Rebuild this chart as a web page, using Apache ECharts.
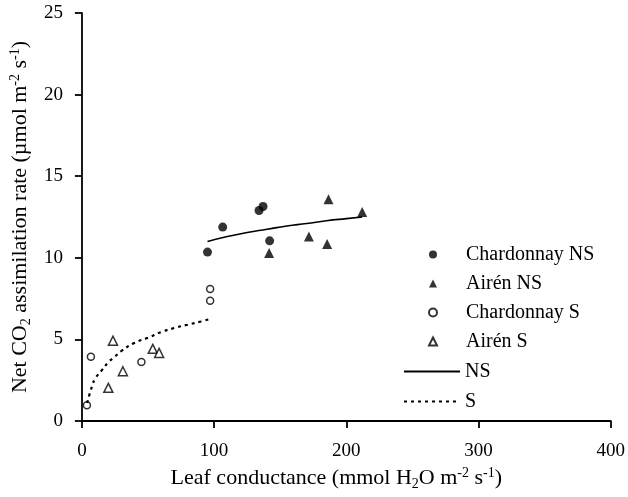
<!DOCTYPE html>
<html>
<head>
<meta charset="utf-8">
<script src="https://cdn.jsdelivr.net/npm/echarts@6/dist/echarts.min.js"></script>
<style>
html,body{margin:0;padding:0;background:#fff;}
#chart{width:628px;height:497px;}
</style>
</head>
<body>
<div id="chart"></div>
<script>
// Data
var chardonnayNS = [[95, 10.35], [106.5, 11.88], [134, 12.9], [137, 13.14], [142, 11.04]];
var airenNS = [[141.6, 10.29], [171.7, 11.3], [185.5, 10.84], [186.5, 13.59], [212, 12.8]];
var chardonnayS = [[3.8, 0.97], [6.8, 3.93], [45, 3.62], [97, 7.37], [97, 8.09]];
var airenS = [[20, 2.03], [23.5, 4.92], [31, 3.05], [53.6, 4.42], [58.4, 4.17]];
var fitNS = [[95, 11.0], [110, 11.3], [125, 11.55], [140, 11.75], [155, 11.95], [170, 12.1], [185, 12.27], [200, 12.4], [212, 12.5]];
var fitS = [[4, 1.1], [6, 1.7], [8, 2.2], [10, 2.6], [15, 3.1], [20, 3.6], [25, 3.95], [30, 4.3], [40, 4.8], [50, 5.1], [60, 5.45], [70, 5.7], [80, 5.9], [90, 6.1], [97, 6.25]];
var xTicks = [0, 100, 200, 300, 400];
var yTicks = [0, 5, 10, 15, 20, 25];
var scatterNames = ['Chardonnay NS', 'Airén NS', 'Chardonnay S', 'Airén S'];
var lineNames = ['NS', 'S'];

var FONT = 'Liberation Serif';
var chart = echarts.init(document.getElementById('chart'), null, {renderer: 'canvas'});
var axisCommon = {
  axisLine: {show: true, onZero: false, lineStyle: {color: '#000', width: 1.8}},
  axisTick: {show: true, inside: false, length: 7, lineStyle: {color: '#000', width: 1.8}},
  splitLine: {show: false},
  axisLabel: {color: '#000', fontFamily: FONT, fontSize: 19}
};
var richText = {
  n: {fontFamily: FONT, fontSize: 22, color: '#000', lineHeight: 25, verticalAlign: 'middle'},
  sub: {fontFamily: FONT, fontSize: 14, color: '#000', lineHeight: 25, verticalAlign: 'bottom'},
  sup: {fontFamily: FONT, fontSize: 14, color: '#000', lineHeight: 25, verticalAlign: 'top'}
};
var option = {
  animation: false,
  backgroundColor: '#fff',
  grid: {left: 81, right: 15, top: 13, bottom: 76, containLabel: false},
  xAxis: Object.assign({}, axisCommon, {
    type: 'value', min: xTicks[0], max: xTicks[xTicks.length - 1], interval: 100,
    name: '{n|Leaf conductance (mmol H}{sub|2}{n|O m}{sup|-2}{n| s}{sup|-1}{n|)}',
    nameLocation: 'middle', nameGap: 42,
    nameTextStyle: {rich: richText, padding: [0, 20, 0, 0]},
    axisLabel: Object.assign({}, axisCommon.axisLabel, {margin: 21})
  }),
  yAxis: Object.assign({}, axisCommon, {
    type: 'value', min: yTicks[0], max: yTicks[yTicks.length - 1], interval: 5,
    name: '{n|Net CO}{sub|2}{n| assimilation rate (µmol m}{sup|-2}{n| s}{sup|-1}{n|)}',
    nameLocation: 'middle', nameGap: 48, nameRotate: 90,
    nameTextStyle: {rich: richText},
    axisLabel: Object.assign({}, axisCommon.axisLabel, {margin: 19})
  }),
  legend: [{
    data: scatterNames,
    orient: 'vertical', left: 423, top: 239,
    itemWidth: 8, itemHeight: 8, itemGap: 8,
    textStyle: {fontFamily: FONT, fontSize: 20, color: '#000', padding: [0, 0, 0, 24], lineHeight: 21},
    selectedMode: false
  }, {
    data: lineNames,
    orient: 'vertical', left: 398, top: 356,
    itemWidth: 56, itemHeight: 10, itemGap: 9,
    itemStyle: {opacity: 0},
    textStyle: {fontFamily: FONT, fontSize: 20, color: '#000', lineHeight: 21},
    selectedMode: false
  }],
  series: [
    {name: 'Chardonnay NS', type: 'scatter', data: chardonnayNS, symbol: 'circle', symbolSize: 9,
      itemStyle: {color: '#000'}},
    {name: 'Airén NS', type: 'scatter', data: airenNS, symbol: 'triangle', symbolSize: 10,
      itemStyle: {color: '#000'}},
    {name: 'Chardonnay S', type: 'scatter', data: chardonnayS, symbol: 'circle', symbolSize: 7,
      itemStyle: {color: '#fff', borderColor: '#000', borderWidth: 1.5}},
    {name: 'Airén S', type: 'scatter', data: airenS, symbol: 'triangle', symbolSize: 9,
      itemStyle: {color: '#fff', borderColor: '#000', borderWidth: 1.5}},
    {name: 'NS', type: 'line', data: fitNS, smooth: true, symbol: 'none',
      lineStyle: {color: '#000', width: 1.6, type: 'solid'}, itemStyle: {color: '#000'}},
    {name: 'S', type: 'line', data: fitS, smooth: true, symbol: 'none',
      lineStyle: {color: '#000', width: 2.2, type: [3, 4]}, itemStyle: {color: '#000'}}
  ]
};
chart.setOption(option);
</script>
</body>
</html>
